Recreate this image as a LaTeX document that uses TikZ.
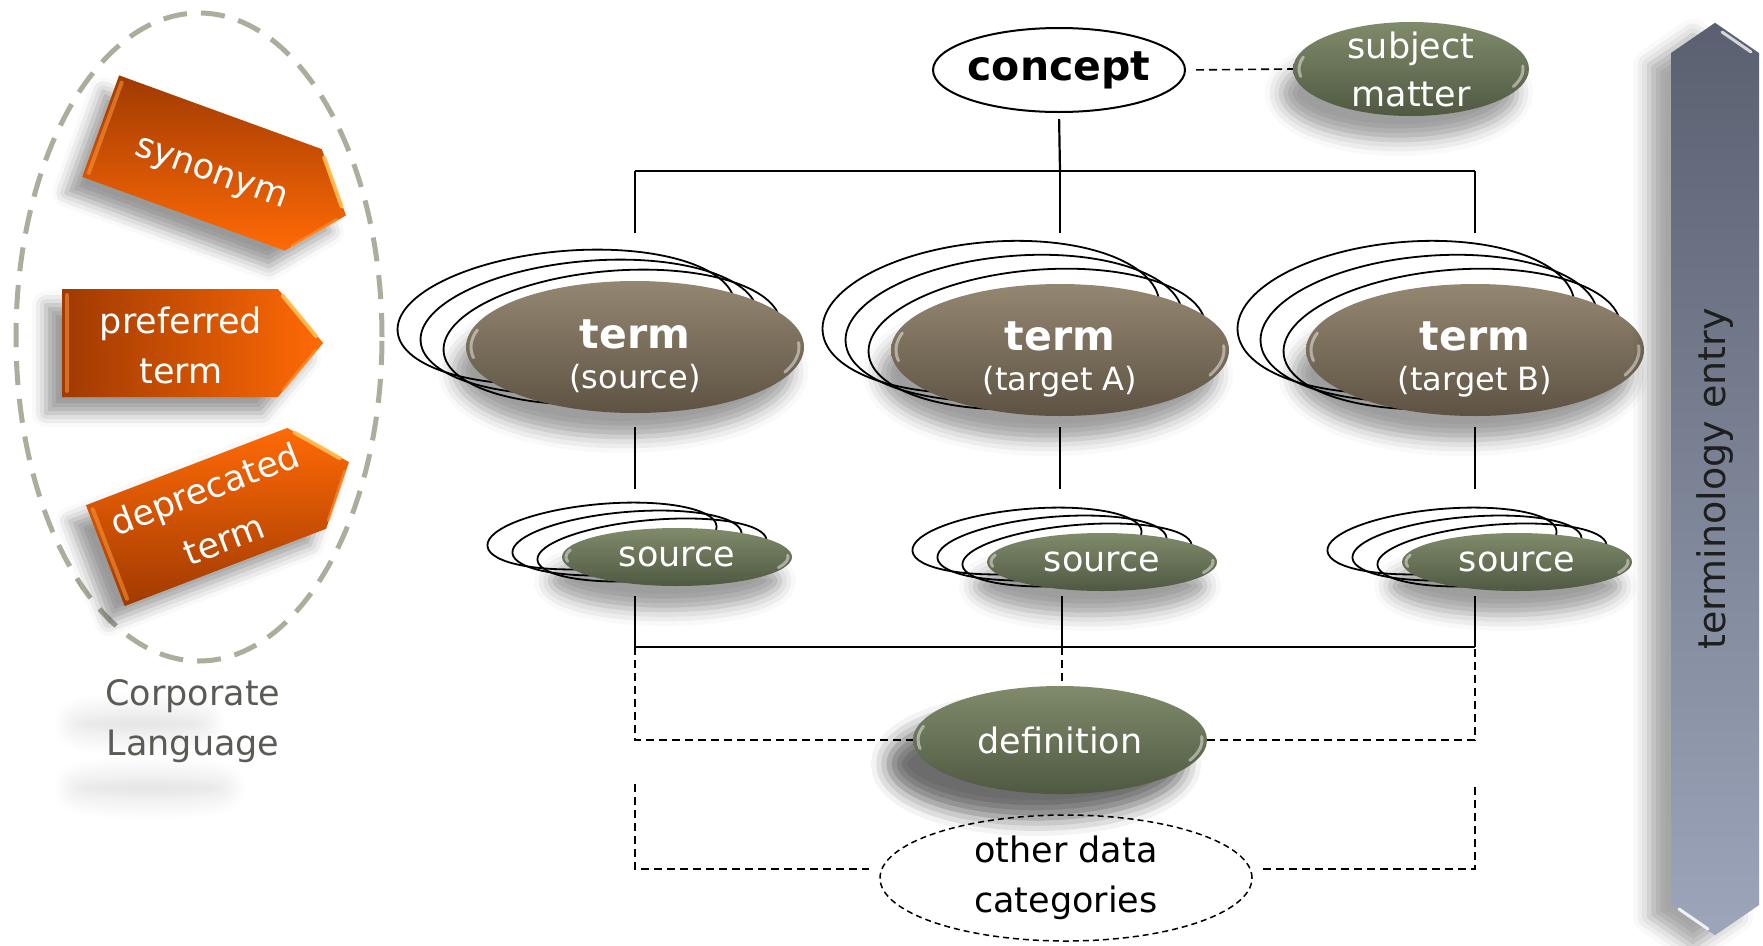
\documentclass[tikz,border=0pt]{standalone}
\usepackage{fontspec}
\setmainfont{DejaVu Sans}
\usetikzlibrary{shapes.geometric,shapes.symbols,shadows.blur,calc}
\definecolor{termtop}{HTML}{948772}
\definecolor{termbot}{HTML}{5E5343}
\definecolor{olivetop}{HTML}{808B6B}
\definecolor{olivebot}{HTML}{4F5942}
\definecolor{ordark}{HTML}{A03A02}
\definecolor{orbright}{HTML}{FF6A05}
\definecolor{ellgray}{HTML}{A9AF9C}
\definecolor{corptext}{HTML}{595C54}
\definecolor{bartop}{HTML}{5A6070}
\definecolor{barbot}{HTML}{9CA5BA}
\definecolor{bevelhi}{HTML}{FFBE55}
\definecolor{bevello}{HTML}{FF9A3C}
\newcommand\mystack[7]{%
  \foreach \i in {3,2,1}{%
    \draw[outl, rotate around={5:({#1-#5*\i},{#2-#6*\i})}]
      ({#1-#5*\i},{#2-#6*\i}) ellipse [x radius=#3pt, y radius={#4pt+#7pt*\i}];
  }}
\newcommand\myrim[3]{%
  \draw[rimline] (#1.center) ++(164:#2pt and #3pt) arc [start angle=164, end angle=190, x radius=#2pt, y radius=#3pt];
  \draw[rimline] (#1.center) ++(-24:#2pt and #3pt) arc [start angle=-24, end angle=4, x radius=#2pt, y radius=#3pt];
}
\newcommand\mybevel[2]{%
  \begin{scope}[shift={(#1.center)}, rotate=#2]
    \draw[line width=4pt, bevelhi, opacity=.9, line cap=round] (113pt,47pt) -- (146pt,7pt);
    \draw[line width=3pt, bevello, opacity=.6, line cap=round] (146pt,-7pt) -- (113pt,-47pt);
    \draw[line width=4pt, bevello, opacity=.55, line cap=round] (-103pt,48pt) -- (-103pt,-48pt);
  \end{scope}}
\begin{document}
\begin{tikzpicture}[x=1pt,y=-1pt,
  every node/.style={font=\fontsize{35}{50}\selectfont},
  conn/.style={line width=2.2pt, black},
  dconn/.style={line width=1.6pt, black, dash pattern=on 8pt off 5pt},
  outl/.style={line width=1.8pt, black},
  rimline/.style={white, opacity=.45, line width=3pt, line cap=round},
  haze/.style={blur shadow={shadow xshift=0pt, shadow yshift=0pt, shadow blur radius=24pt, shadow blur steps=12, shadow opacity=14}},
  myshadow/.style={blur shadow={shadow xshift=-12pt, shadow yshift=-24pt, shadow blur radius=16pt, shadow opacity=38}},
  termnode/.style={ellipse, minimum width=338pt, minimum height=132pt, inner sep=0pt,
    top color=termtop, bottom color=termbot, myshadow},
  termtext/.style={text=white, align=center, font=\fontsize{32}{40}\selectfont, yshift=-9pt},
  olivenode/.style={ellipse, inner sep=0pt, top color=olivetop, bottom color=olivebot,
    text=white, align=center, myshadow},
  orangearrow/.style={signal, signal to=east, signal pointer angle=100,
    minimum width=261pt, minimum height=108pt, inner sep=0pt,
    blur shadow={shadow xshift=-16pt, shadow yshift=-16pt, shadow blur radius=14pt, shadow opacity=40}},
  arrowtext/.style={text=white, align=center, inner sep=0pt}
]
\useasboundingbox (0,0) rectangle (1763,945);

% ---------- left group ----------
\draw[ellgray, line width=5pt, dash pattern=on 24pt off 14pt] (199,337) ellipse [x radius=183pt, y radius=324pt];
\node[orangearrow, top color=ordark, bottom color=orbright, rotate=-20] (syn) at (202,163) {};
\node[orangearrow, left color=ordark, right color=orbright] (pref) at (170,343) {};
\node[orangearrow, top color=orbright, bottom color=ordark, rotate=21] (dep) at (206,517) {};
\mybevel{syn}{-20}
\mybevel{pref}{0}
\mybevel{dep}{21}
\node[arrowtext, rotate=-20] (syntxt) at ($(syn.center)+(-20:12pt)+(-110:9pt)$) {synonym};
\node[arrowtext] (preftxt) at ($(pref.center)+(11pt,-2pt)$) {preferred\\term};
\node[arrowtext, rotate=21, font=\fontsize{35}{54}\selectfont] (deptxt) at ($(dep.center)+(21:9pt)$) {deprecated\\term};
\path[haze] (140,724) ellipse [x radius=62pt, y radius=8pt];
\path[haze] (150,788) ellipse [x radius=72pt, y radius=8pt];
\node[text=corptext, align=center] (corp) at (193,721) {Corporate\\Language};

% ---------- top ----------
\node[ellipse, draw, line width=2pt, fill=white, minimum width=252pt, minimum height=84pt, inner sep=0pt,
  label={[font=\fontsize{41}{41}\selectfont\bfseries]center:concept}] (concept) at (1059,70) {};
\node[olivenode, minimum width=236pt, minimum height=94pt,
  label={[text=white, align=center, font=\fontsize{35}{48}\selectfont]center:subject\\matter}] (subj) at (1411,69) {};
\myrim{subj}{112}{43}
\draw[dconn, shorten <=10pt] (concept.east) -- (subj.west);

\coordinate (j1) at (635,171);
\coordinate (j2) at (1060,171);
\coordinate (j3) at (1475,171);
\coordinate (a1) at (635,233);
\coordinate (a2) at (1060,233);
\coordinate (a3) at (1475,233);
\draw[conn, shorten <=6pt] (concept.south) -- (j2);
\draw[conn] (j1) -- (j3);
\draw[conn] (j1) -- (a1);
\draw[conn] (j2) -- (a2);
\draw[conn] (j3) -- (a3);

% ---------- terms ----------
\mystack{635}{347}{169}{66}{23}{10}{0}
\mystack{1060}{350}{169}{66}{23}{11}{3}
\mystack{1475}{350}{169}{66}{23}{11}{3}
\node[termnode, label={[termtext]center:{\fontsize{41}{40}\selectfont\bfseries term}\\(source)}] (t1) at (635,347) {};
\node[termnode, label={[termtext]center:{\fontsize{41}{40}\selectfont\bfseries term}\\(target A)}] (t2) at (1060,350) {};
\node[termnode, label={[termtext]center:{\fontsize{41}{40}\selectfont\bfseries term}\\(target B)}] (t3) at (1475,350) {};
\myrim{t1}{164}{62}
\myrim{t2}{164}{62}
\myrim{t3}{164}{62}

% ---------- sources ----------
\coordinate (u1) at (635,489);
\coordinate (u2) at (1060,489);
\coordinate (u3) at (1475,489);
\draw[conn, shorten <=14pt] (t1.south) -- (u1);
\draw[conn, shorten <=11pt] (t2.south) -- (u2);
\draw[conn, shorten <=11pt] (t3.south) -- (u3);
\mystack{677}{557}{115}{29}{25}{7}{1}
\mystack{1102}{562}{115}{29}{25}{7}{1}
\mystack{1517}{562}{115}{29}{25}{7}{1}
\node[olivenode, minimum width=230pt, minimum height=58pt] (s1) at (677,557) {source};
\node[olivenode, minimum width=230pt, minimum height=58pt] (s2) at (1102,562) {source};
\node[olivenode, minimum width=230pt, minimum height=58pt] (s3) at (1517,562) {source};
\myrim{s1}{111}{26}
\myrim{s2}{111}{26}
\myrim{s3}{111}{26}

% ---------- bottom tree ----------
\coordinate (v1) at (635,596);
\coordinate (v2) at (1062,596);
\coordinate (v3) at (1475,596);
\coordinate (b1) at (635,647);
\coordinate (b2) at (1062,647);
\coordinate (b3) at (1475,647);
\draw[conn] (v1) -- (b1);
\draw[conn] (v2) -- (b2);
\draw[conn] (v3) -- (b3);
\draw[conn] (b1) -- (b3);

\node[olivenode, minimum width=294pt, minimum height=108pt,
  blur shadow={shadow xshift=-24pt, shadow yshift=-24pt, shadow blur radius=18pt, shadow opacity=35}] (def) at (1060,740) {definition};
\myrim{def}{142}{50}
\coordinate (m1) at (635,740);
\coordinate (m3) at (1475,740);
\draw[dconn] (b1) -- (m1) -- (def.west);
\draw[dconn] (def.east) -- (m3) -- (b3);
\draw[dconn, shorten >=4pt] (b2) -- (b2 |- def.north);

\node[ellipse, draw, line width=1.5pt, dash pattern=on 6pt off 4pt, minimum width=372pt, minimum height=126pt,
  inner sep=0pt, align=center] (other) at (1066,878) {other data\\categories};
\coordinate (n1) at (635,784);
\coordinate (n3) at (1475,784);
\coordinate (p1) at (635,869);
\coordinate (p3) at (1475,869);
\draw[dconn, shorten >=10pt] (n1) -- (p1) -- (p1 -| other.west);
\draw[dconn, shorten <=10pt] (p3 -| other.east) -- (p3) -- (n3);

% ---------- terminology entry bar ----------
\node[signal, signal to=north and south, signal pointer angle=111, minimum width=88pt, minimum height=852pt,
  inner sep=0pt, top color=bartop, bottom color=barbot,
  blur shadow={shadow xshift=-22pt, shadow yshift=-12pt, shadow blur radius=16pt, shadow opacity=35},
  label={[rotate=90, text={rgb,255:red,30;green,30;blue,30}, font=\fontsize{38}{40}\selectfont]center:terminology entry}] (bar) at (1715,479) {};
\draw[white, opacity=0.75, line width=3pt, line cap=round] (1722,32) -- (1751,52);
\draw[white, opacity=0.85, line width=3pt, line cap=round] (1679,909) -- (1708,929);
\end{tikzpicture}
\end{document}
